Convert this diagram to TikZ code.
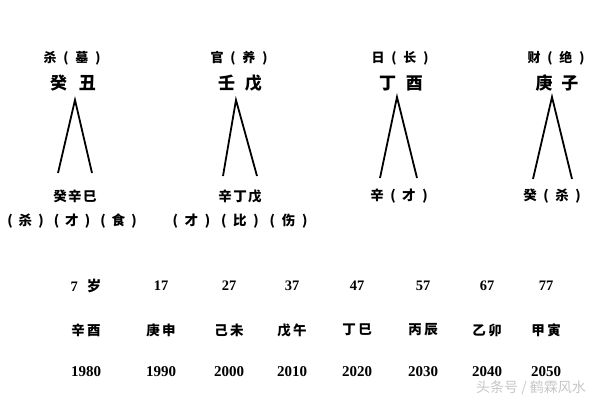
\documentclass[tikz,border=0pt]{standalone}
\usepackage{fontspec}
\setmainfont{Liberation Serif}
\newfontfamily\cjk{Noto Sans CJK SC}
% evenly spaced characters: \cc{pitch}{chars}
\newcommand\cc[2]{\def\ccw{#1}\edef\cctmp{#2}\expandafter\ccloop\cctmp\relax}
\def\ccloop#1{\ifx#1\relax\else\makebox[\ccw]{#1}\expandafter\ccloop\fi}
\begin{document}
\begin{tikzpicture}[x=1pt,y=-1pt,
  lbl/.style={font=\cjk\bfseries\fontsize{13}{13}\selectfont,inner sep=0pt},
  stem/.style={font=\cjk\bfseries\fontsize{17}{17}\selectfont,inner sep=0pt},
  hid/.style={font=\cjk\bfseries\fontsize{13.5}{13.5}\selectfont,inner sep=0pt},
  gz/.style={font=\cjk\bfseries\fontsize{13.5}{13.5}\selectfont,inner sep=0pt},
  num/.style={font=\bfseries\fontsize{14.5}{14.5}\selectfont,inner sep=0pt},
  yr/.style={font=\bfseries\fontsize{15}{15}\selectfont,inner sep=0pt},
  leg/.style={line width=1.8pt}]
\useasboundingbox (0,0) rectangle (600,400);
% four pillars
\node[lbl] (t1) at (74,58) {\cc{16pt}{杀(墓)}};
\node[lbl] (t2) at (241,58) {\cc{16pt}{官(养)}};
\node[lbl] (t3) at (402,58) {\cc{16pt}{日(长)}};
\node[lbl] (t4) at (558,58) {\cc{16pt}{财(绝)}};
\node[stem] (s1) at (73,83) {\cc{29pt}{癸丑}};
\node[stem] (s2) at (240,83) {\cc{27pt}{壬戊}};
\node[stem] (s3) at (401,83) {\cc{27pt}{丁酉}};
\node[stem] (s4) at (557,83) {\cc{26pt}{庚子}};
\coordinate (p1) at (75,100); \coordinate (l1) at (58,173); \coordinate (r1) at (92,173);
\coordinate (p2) at (236,100); \coordinate (l2) at (223,176); \coordinate (r2) at (257,176);
\coordinate (p3) at (397,97); \coordinate (l3) at (380,178); \coordinate (r3) at (417,178);
\coordinate (p4) at (552,97); \coordinate (l4) at (533,179); \coordinate (r4) at (572,179);
\foreach \i in {1,...,4}
  \draw[leg] (l\i)--(p\i)--(r\i);
% hidden stems
\node[hid] (h1) at (75,196) {\cc{15pt}{癸辛巳}};
\node[hid] (g1) at (72,221) {\cc{15.5pt}{(杀)(才)(食)}};
\node[hid] (h2) at (240,196) {\cc{15pt}{辛丁戊}};
\node[hid] (g2) at (240,221) {\cc{16.2pt}{(才)(比)(伤)}};
\node[hid] (h3) at (401,196) {\cc{16pt}{辛(才)}};
\node[hid] (h4) at (554,196) {\cc{16pt}{癸(杀)}};
% luck pillars
\foreach \x/\a/\g/\y [count=\i] in {86/{7\hspace{9pt}{\cjk 岁}}/辛酉/1980,161/17/庚申/1990,
    229/27/己未/2000,292/37/戊午/2010,357/47/丁巳/2020,423/57/丙辰/2030,
    487/67/乙卯/2040,546/77/甲寅/2050}
{
  \node[num] (a\i) at (\x,286) {\a};
  \node[gz] (z\i) at (\x,330) {\cc{16pt}{\g}};
  \node[yr] (y\i) at (\x,372) {\y};
}
\node[font=\cjk\fontsize{14}{14}\selectfont,text=gray!45,inner sep=0pt] (wm) at (531,388) {头条号 / 鹤霖风水};
\end{tikzpicture}
\end{document}
